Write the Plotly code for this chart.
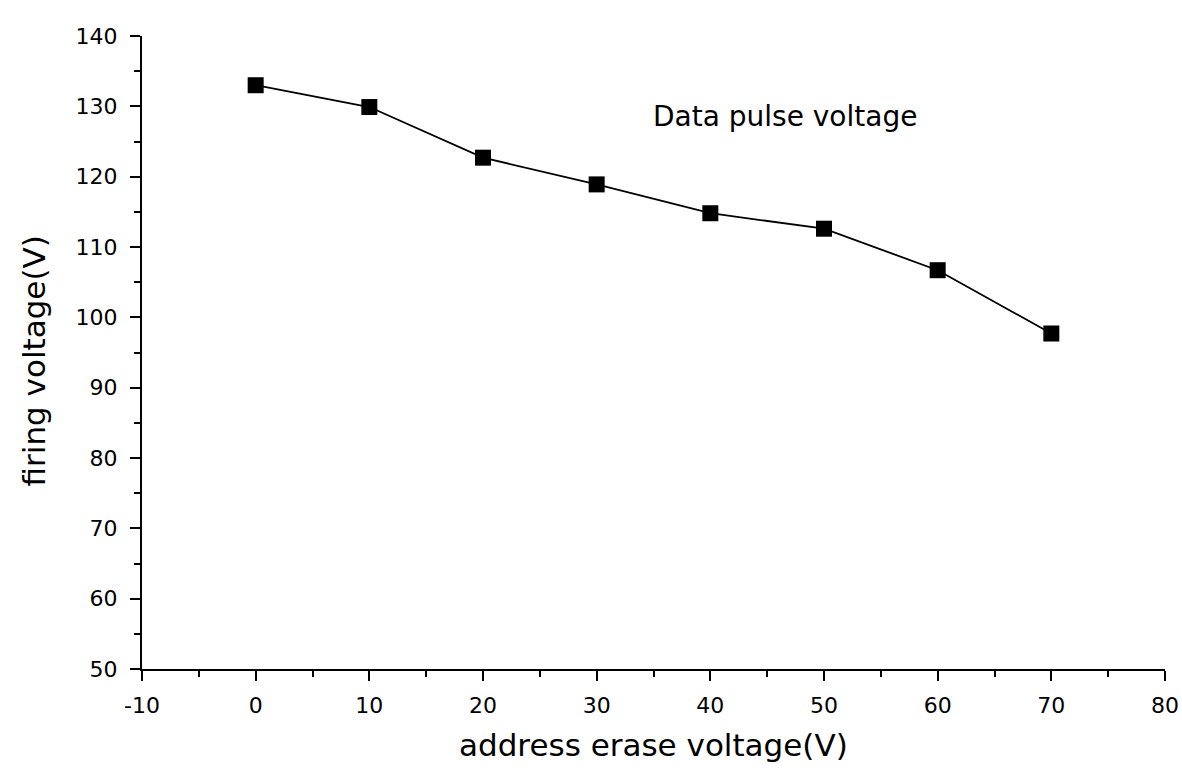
import plotly.graph_objects as go

x_vals = [0, 10, 20, 30, 40, 50, 60, 70]
firing_voltage = [133.0, 129.9, 122.7, 118.9, 114.8, 112.6, 106.7, 97.7]

x_ticks = [-10, 0, 10, 20, 30, 40, 50, 60, 70, 80]
x_ticklabels = ["-10", "0", "10", "20", "30", "40", "50", "60", "70", "80"]
y_ticks = [50, 60, 70, 80, 90, 100, 110, 120, 130, 140]
y_ticklabels = ["50", "60", "70", "80", "90", "100", "110", "120", "130", "140"]

FONT = "DejaVu Sans, Liberation Sans, Arial"

fig = go.Figure()
fig.add_trace(go.Scatter(
    x=x_vals, y=firing_voltage, mode="lines+markers",
    line=dict(color="black", width=1.8),
    marker=dict(symbol="square", size=16, color="black"),
    showlegend=False,
))

axis_common = dict(
    showgrid=False, zeroline=False, showline=True, linecolor="black", linewidth=2,
    ticks="outside", ticklen=10, tickwidth=2, tickcolor="black",
    tickfont=dict(family=FONT, size=22, color="black"),
    minor=dict(ticks="outside", ticklen=6, tickwidth=2, tickcolor="black", dtick=5),
    automargin=False,
)

fig.update_xaxes(range=[-10, 80], tickmode="array", tickvals=x_ticks, ticktext=x_ticklabels,
                 ticklabelstandoff=6, **axis_common)
fig.update_yaxes(range=[50, 140], tickmode="array", tickvals=y_ticks, ticktext=y_ticklabels,
                 ticklabelstandoff=8, **axis_common)

fig.add_annotation(x=0.5, y=-0.12, xref="paper", yref="paper", yanchor="middle",
                   text="address erase voltage(V)", showarrow=False,
                   font=dict(family=FONT, size=31, color="black"))
fig.add_annotation(x=-0.125, y=0.486, xref="paper", yref="paper",
                   text="firing voltage(V)", showarrow=False, textangle=-90,
                   font=dict(family=FONT, size=31, color="black"))
fig.add_annotation(x=0.629, y=0.902, xref="paper", yref="paper",
                   text="Data pulse voltage", showarrow=False,
                   font=dict(family=FONT, size=28, color="black"))

fig.update_layout(
    width=1182, height=783,
    margin=dict(l=142, r=17, t=36, b=114),
    plot_bgcolor="white", paper_bgcolor="white",
)

fig.write_html("out.html", config={"displayModeBar": False},
               post_script="document.body.style.margin='0';")
